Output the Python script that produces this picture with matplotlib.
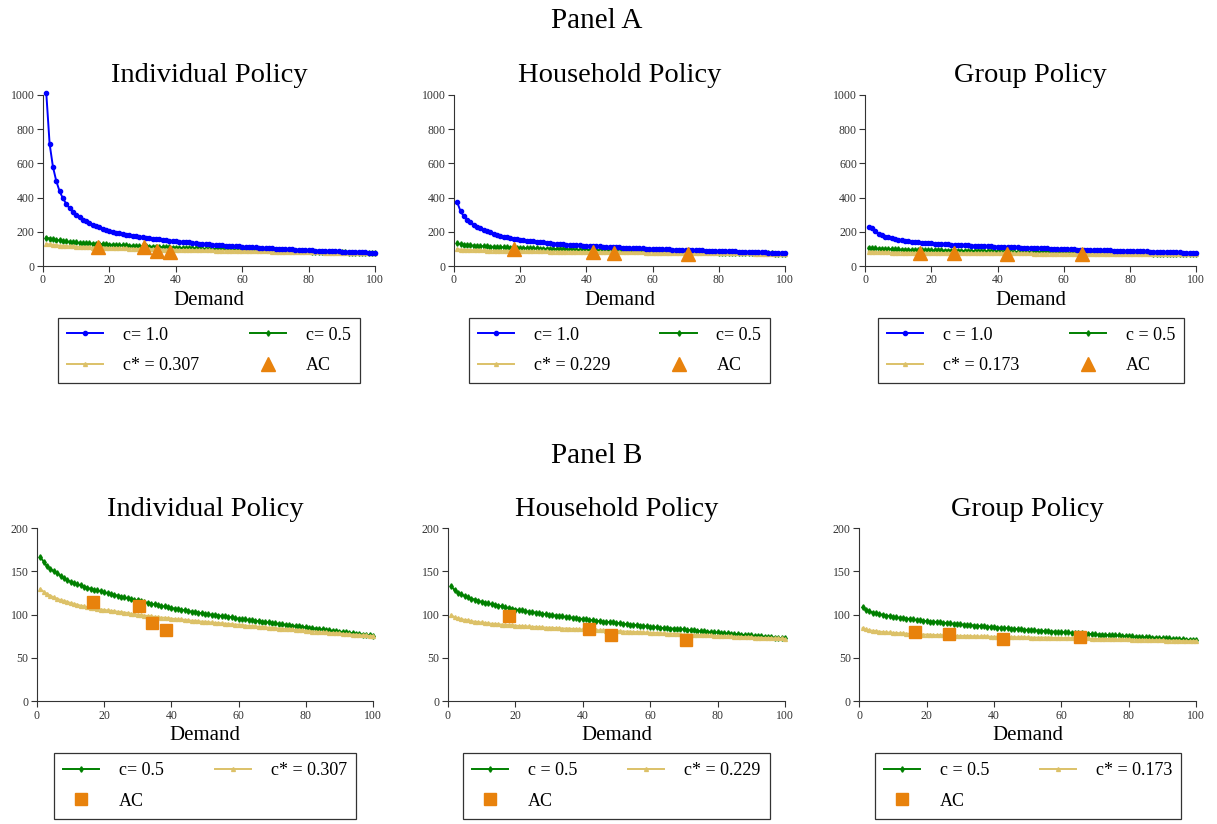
import numpy as np
import matplotlib
matplotlib.use("Agg")
import matplotlib.pyplot as plt

plt.rcParams["font.family"] = ["Liberation Serif", "DejaVu Serif"]

demand = list(range(1, 101))

# ---- Individual policy ----
ind_c10 = [1010, 714, 580, 497, 437, 396, 364, 338, 317, 299,
           285, 272, 261, 251, 242, 234, 226, 219, 212, 205,
           200, 195, 191, 187, 183, 180, 177, 174, 171, 168,
           165, 163, 160, 158, 156, 153, 151, 149, 147, 145,
           143, 141, 139, 138, 136, 134, 132, 131, 129, 127,
           126, 124, 123, 121, 120, 119, 117, 116, 115, 113,
           112, 111, 110, 109, 107, 106, 105, 104, 103, 102,
           101, 100, 99, 98, 97.5, 96.5, 95.5, 94.5, 94, 93,
           92, 91, 90.5, 89.5, 89, 88, 87, 86.5, 85.5, 85,
           84, 83.5, 82.5, 82, 81, 80.5, 80, 79, 78.5, 78]
ind_c05 = [167, 161, 156, 153, 150, 148, 145, 142, 140, 138,
           136.5, 135, 134, 132.5, 131, 130, 129, 128, 127, 126,
           125, 124, 123, 122, 121, 120, 119, 118, 117, 116.5,
           115.5, 114.5, 113.5, 112.5, 112, 111, 110, 109.5, 108.5, 108,
           107, 106.5, 105.5, 105, 104.5, 103.5, 103, 102.5, 101.5, 101,
           100.5, 100, 99.5, 99, 98.5, 98, 97.5, 97, 96, 95.5,
           95, 94.5, 94, 93.5, 93, 92.5, 92, 91.5, 91, 90.5,
           90, 89.5, 89, 88.5, 88, 87.5, 87, 86.5, 86, 85.5,
           85, 84.5, 84, 83.5, 83, 82.5, 82, 81.5, 81, 80.5,
           80, 79.5, 79, 78.5, 78, 77.5, 77, 76.5, 76, 75.5]
ind_cstar = [129.5, 126.5, 124, 122, 120, 118.5, 117, 116, 115, 113.5,
             112.5, 111.5, 110.5, 109.5, 108.5, 108, 107.5, 107, 106, 105.5,
             105, 104.5, 104, 103.5, 103, 102.5, 102, 101, 100.5, 100,
             99.5, 99, 98.5, 98, 97.5, 97, 96.5, 96.5, 96, 95.5,
             95, 94.5, 94.5, 94, 93.5, 93, 93, 92.5, 92, 92,
             91.5, 91, 90.5, 90.5, 90, 89.5, 89.5, 89, 88.5, 88.5,
             88, 87.5, 87, 87, 86.5, 86, 86, 85.5, 85, 85,
             84.5, 84, 84, 83.5, 83, 83, 82.5, 82, 82, 81.5,
             81, 80.5, 80.5, 80, 79.5, 79.5, 79, 79, 78.5, 78.5,
             78, 77.5, 77.5, 77, 77, 76.5, 76, 76, 75.5, 75.5]
ind_ac_q = [16.7, 30.4, 34.2, 38.3]
ind_ac = [114.3, 110.4, 90.7, 82.2]

# ---- Household policy ----
hh_c10 = [372, 320, 290, 270, 255, 242, 231, 221, 212, 205,
          197, 190, 184, 178, 172, 168, 164, 161, 158, 155,
          152, 149, 147, 144, 142, 140, 138, 136, 134, 132,
          131, 129, 128, 126, 125, 124, 122, 121, 120, 119,
          118, 117, 116, 115, 114, 113, 112, 111, 110, 109,
          108, 107.5, 106.5, 106, 105, 104, 103.5, 102.5, 102, 101,
          100.5, 99.5, 99, 98.5, 97.5, 97, 96.5, 95.5, 95, 94.5,
          94, 93, 92.5, 92, 91.5, 91, 90, 89.5, 89, 88.5,
          88, 87.5, 87, 86, 85.5, 85, 84.5, 84, 83.5, 83,
          82, 81, 80.5, 80, 79, 78.5, 78, 77, 76.5, 76]
hh_c05 = [133, 128.5, 125.5, 123.5, 121.5, 120, 118.5, 117.5, 116, 115,
          114, 113, 112, 111.5, 110.5, 109.5, 108.5, 108, 107, 106,
          105.5, 105, 104, 103.5, 103, 102.5, 101.5, 101, 100.5, 100,
          99.5, 99, 98.5, 98, 97.5, 97, 96.5, 96, 95.5, 95,
          94.5, 94, 93.5, 93, 92.5, 92, 91.5, 91.5, 91, 90.5,
          90, 89.5, 89, 88.5, 88, 88, 87.5, 87, 86.5, 86,
          85.5, 85.5, 85, 84.5, 84.5, 84, 84, 83.5, 83.5, 83,
          82.5, 82, 82, 81.5, 81, 81, 80.5, 80, 80, 79.5,
          79, 78.5, 78.5, 78, 77.5, 77.5, 77, 76.5, 76.5, 76,
          75.5, 75, 75, 74.5, 74, 74, 73.5, 73, 73, 72.5]
hh_cstar = [99.5, 97, 96, 95, 94, 93.5, 92.5, 92, 91.5, 91,
            90.5, 90, 89.5, 89.5, 89, 88.5, 88.5, 88, 88, 87.5,
            87, 87, 86.5, 86.5, 86, 86, 85.5, 85.5, 85, 85,
            85, 84.5, 84.5, 84, 84, 84, 83.5, 83.5, 83, 83,
            83, 82.5, 82.5, 82, 82, 82, 81.5, 81.5, 81, 81,
            81, 80.5, 80.5, 80.5, 80, 80, 80, 79.5, 79.5, 79,
            79, 79, 78.5, 78.5, 78, 78, 78, 77.5, 77.5, 77,
            77, 77, 76.5, 76.5, 76.5, 76, 76, 76, 75.5, 75.5,
            75.5, 75, 75, 75, 74.5, 74.5, 74.5, 74, 74, 74,
            73.5, 73.5, 73.5, 73, 73, 73, 72.5, 72.5, 72.5, 72]
hh_ac_q = [18.1, 41.9, 48.4, 70.6]
hh_ac = [98.5, 83.8, 76.0, 70.3]

# ---- Group policy ----
grp_c10 = [230, 222, 203, 189, 180, 173, 168, 163, 159, 155,
           152, 149, 146, 143, 141, 139, 137, 136, 134, 133,
           132, 130, 129, 128, 127, 126, 125, 124, 123, 122,
           121, 120, 119.5, 118.5, 117.5, 117, 116, 115, 114.5, 113.5,
           113, 112, 111.5, 111, 110, 109.5, 108.5, 108, 107, 106.5,
           106, 105, 104.5, 104, 103, 102.5, 101.5, 101, 100, 99.5,
           99, 98.5, 98, 97, 96.5, 96, 95.5, 95, 94, 93.5,
           93, 92.5, 92, 91.5, 91, 90.5, 90, 89, 88.5, 88,
           87.5, 87, 86.5, 86, 85.5, 85, 84.5, 84, 83.5, 83,
           82.5, 82, 81.5, 81, 80, 79.5, 79, 78, 77.5, 77]
grp_c05 = [108.5, 106, 104, 102.5, 101.5, 100.5, 100, 99, 98.5, 97.5,
           97, 96.5, 96, 95.5, 95, 94.5, 94, 93.5, 93, 92.5,
           92, 92, 91.5, 91, 90.5, 90.5, 90, 89.5, 89.5, 89,
           88.5, 88, 88, 87.5, 87, 87, 86.5, 86, 86, 85.5,
           85, 85, 84.5, 84.5, 84, 83.5, 83.5, 83, 82.5, 82.5,
           82, 82, 81.5, 81.5, 81, 81, 80.5, 80.5, 80, 80,
           79.5, 79.5, 79, 79, 78.5, 78.5, 78, 78, 77.5, 77.5,
           77, 77, 76.5, 76.5, 76, 76, 76, 75.5, 75.5, 75,
           75, 74.5, 74.5, 74, 74, 74, 73.5, 73.5, 73, 73,
           72.5, 72.5, 72, 72, 71.5, 71.5, 71, 71, 70.5, 70.5]
grp_cstar = [84.5, 83, 82, 81.5, 81, 80.5, 80, 79.5, 79.5, 79,
             79, 78.5, 78.5, 78, 78, 77.5, 77.5, 77.5, 77, 77,
             77, 76.5, 76.5, 76.5, 76, 76, 76, 76, 75.5, 75.5,
             75.5, 75.5, 75.5, 75, 75, 75, 75, 75, 74.5, 74.5,
             74.5, 74.5, 74.5, 74.5, 74, 74, 74, 74, 74, 74,
             73.5, 73.5, 73.5, 73.5, 73.5, 73.5, 73.5, 73, 73, 73,
             73, 73, 73, 72.5, 72.5, 72.5, 72.5, 72.5, 72, 72,
             72, 72, 72, 72, 71.5, 71.5, 71.5, 71.5, 71.5, 71.5,
             71, 71, 71, 71, 71, 70.5, 70.5, 70.5, 70.5, 70.5,
             70, 70, 70, 70, 70, 69.5, 69.5, 69.5, 69.5, 69.5]
grp_ac_q = [16.6, 26.7, 42.8, 65.6]
grp_ac = [79.5, 77.2, 71.4, 73.7]

titles = ["Individual Policy", "Household Policy", "Group Policy"]
lab_c10 = ["c= 1.0", "c= 1.0", "c = 1.0"]
lab_c05 = ["c= 0.5", "c= 0.5", "c = 0.5"]
lab_c05_b = ["c= 0.5", "c = 0.5", "c = 0.5"]
lab_cstar = ["c* = 0.307", "c* = 0.229", "c* = 0.173"]

BLUE = "#0000FF"
GREEN = "#008000"
GOLD = "#DCC168"
ORANGE = "#E8820C"

series = [
    (ind_c10, ind_c05, ind_cstar, ind_ac_q, ind_ac),
    (hh_c10, hh_c05, hh_cstar, hh_ac_q, hh_ac),
    (grp_c10, grp_c05, grp_cstar, grp_ac_q, grp_ac),
]

fig = plt.figure(figsize=(12.17, 8.24), dpi=100)

row_a = [(0.0353, 0.677, 0.273, 0.208), (0.373, 0.677, 0.272, 0.208), (0.711, 0.677, 0.272, 0.208)]
row_b = [(0.0304, 0.149, 0.276, 0.21), (0.368, 0.149, 0.277, 0.21), (0.706, 0.149, 0.277, 0.21)]


def style_axes(ax, ymax, ystep):
    ax.set_xlim(0, 100)
    ax.set_ylim(0, ymax)
    ax.set_xticks(range(0, 101, 20))
    ax.set_yticks(range(0, ymax + 1, ystep))
    ax.spines["top"].set_visible(False)
    ax.spines["right"].set_visible(False)
    ax.spines["left"].set_color("#333333")
    ax.spines["bottom"].set_color("#333333")
    ax.tick_params(labelsize=8.5, length=4, width=0.8, colors="#333333", pad=2)
    ax.set_xlabel("Demand", fontsize=15, labelpad=3)


def legend_box(ax, handles, labels):
    leg = ax.legend(handles, labels, loc="upper center", bbox_to_anchor=(0.5, -0.30),
                    ncol=2, fontsize=13, frameon=True, fancybox=False,
                    edgecolor="black", columnspacing=2.8, handlelength=2.0,
                    handletextpad=1.1, borderpad=0.5, labelspacing=0.75,
                    borderaxespad=0)
    leg.get_frame().set_linewidth(0.9)


# Panel A: all three cost curves
for i, (c10, c05, cstar, acq, ac) in enumerate(series):
    ax = fig.add_axes(row_a[i])
    h_c10, = ax.plot(demand, c10, color=BLUE, lw=1.4, marker="o", ms=3.0, clip_on=False, zorder=3)
    h_c05, = ax.plot(demand, c05, color=GREEN, lw=1.4, marker="d", ms=2.8, clip_on=False, zorder=2)
    h_cs, = ax.plot(demand, cstar, color=GOLD, lw=1.4, marker="^", ms=2.8, clip_on=False, zorder=2)
    h_ac, = ax.plot(acq, ac, linestyle="none", marker="^", ms=10, color=ORANGE, zorder=4)
    style_axes(ax, 1000, 200)
    ax.set_title(titles[i], fontsize=20.5, pad=9)
    legend_box(ax, [h_c10, h_cs, h_c05, h_ac], [lab_c10[i], lab_cstar[i], lab_c05[i], "AC"])

# Panel B: zoom on the lower two curves
for i, (c10, c05, cstar, acq, ac) in enumerate(series):
    ax = fig.add_axes(row_b[i])
    h_c05, = ax.plot(demand, c05, color=GREEN, lw=1.4, marker="d", ms=2.8, clip_on=False, zorder=2)
    h_cs, = ax.plot(demand, cstar, color=GOLD, lw=1.4, marker="^", ms=2.8, clip_on=False, zorder=2)
    h_ac, = ax.plot(acq, ac, linestyle="none", marker="s", ms=8.5, color=ORANGE, zorder=4)
    style_axes(ax, 200, 50)
    ax.set_title(titles[i], fontsize=20.5, pad=9)
    legend_box(ax, [h_c05, h_ac, h_cs], [lab_c05_b[i], "AC", lab_cstar[i]])

fig.text(0.4905, 0.975, "Panel A", ha="center", va="center", fontsize=21)
fig.text(0.4905, 0.447, "Panel B", ha="center", va="center", fontsize=21)

fig.savefig("out.png", dpi=100)
